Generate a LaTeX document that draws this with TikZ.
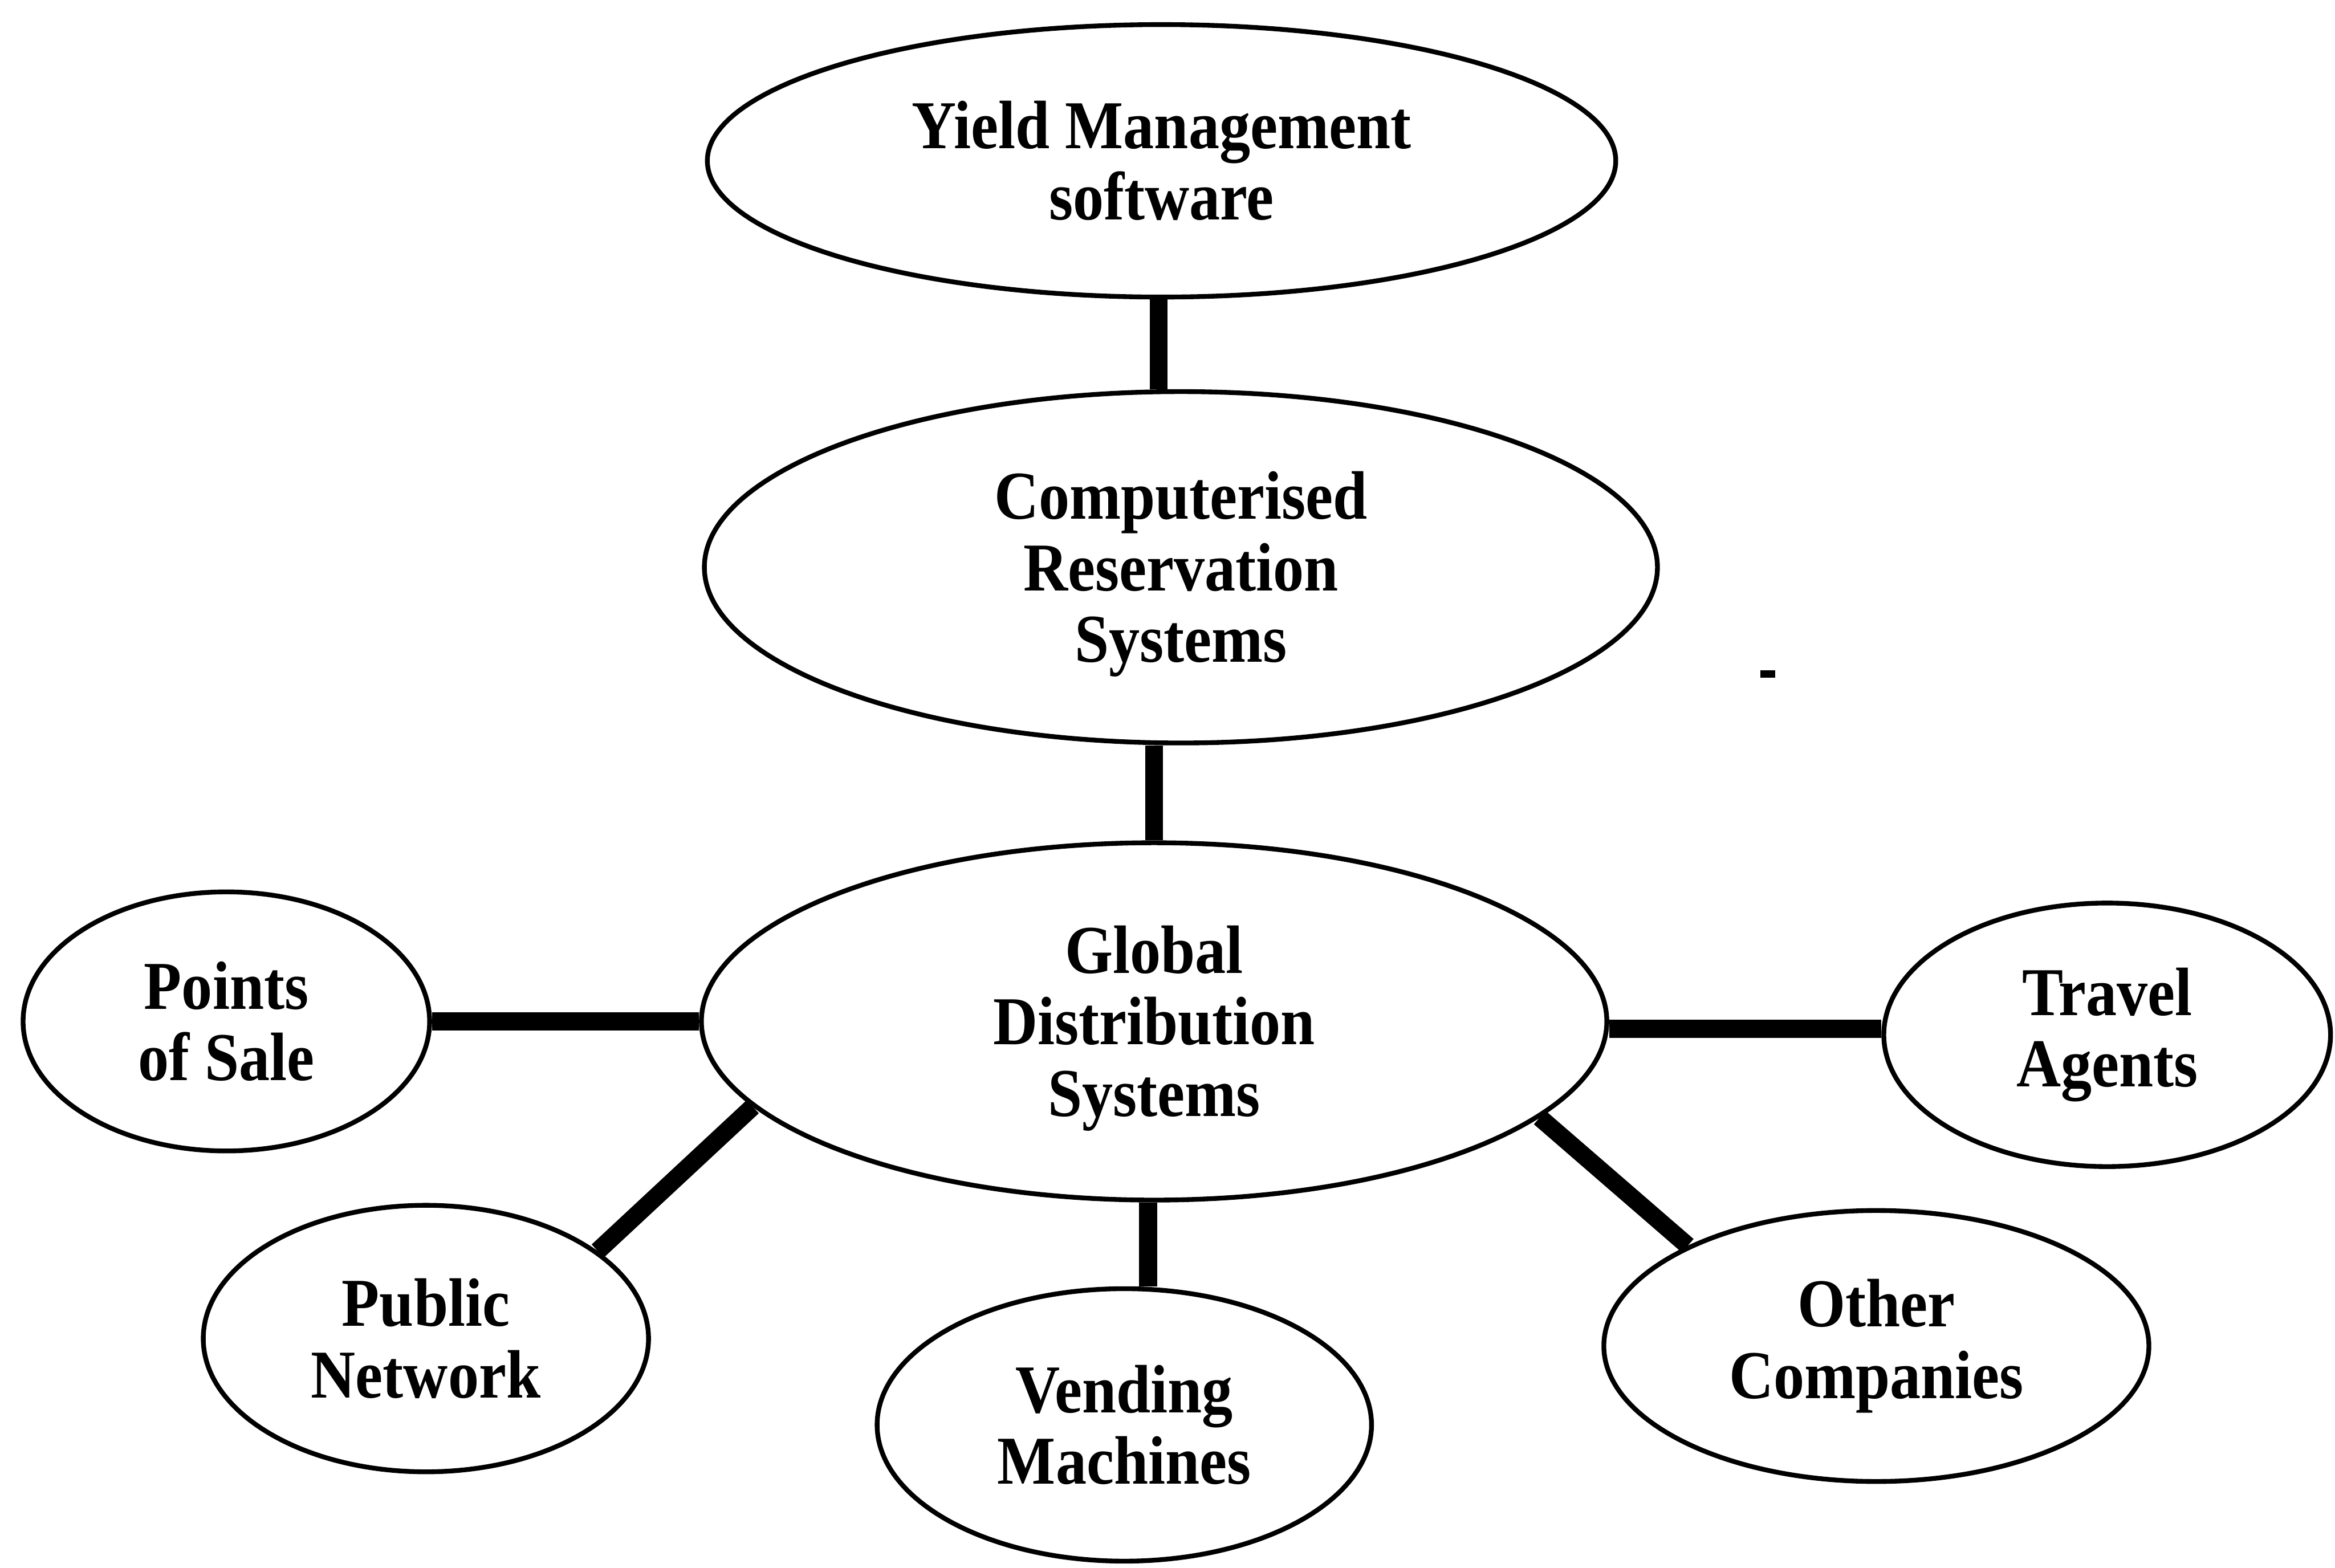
\documentclass[tikz,border=0pt]{standalone}
\usepackage{fontspec}
\setmainfont{Liberation Serif}[FakeStretch=0.9]
\usetikzlibrary{shapes.geometric,calc}
% lowers a centred block of lines while keeping its box size
\newcommand{\lowered}[2]{\raisebox{#1}[\height][\depth]{\begin{tabular}{@{}c@{}}#2\end{tabular}}}
\begin{document}
\begin{tikzpicture}[x=1pt,y=-1pt,
  bubble/.style={ellipse,draw,line width=3.2pt,inner sep=0pt,align=center,
    font=\fontsize{46}{48}\selectfont\bfseries},
  conn/.style={line width=12pt}]
\useasboundingbox (0,0) rectangle (1568,1053);
% bubbles
\node[bubble,minimum width=610,minimum height=183] (ym) at (780,108) {Yield Management\\software};
\node[bubble,minimum width=640,minimum height=236] (crs) at (793,381) {\lowered{-6pt}{Computerised\\Reservation\\Systems}};
\node[bubble,minimum width=608,minimum height=240] (gds) at (775,686) {\lowered{-6pt}{Global\\Distribution\\Systems}};
\node[bubble,minimum width=273,minimum height=174] (pos) at (152,686) {Points\\of Sale};
\node[bubble,minimum width=300,minimum height=177] (ta) at (1415,695) {Travel\\Agents};
\node[bubble,minimum width=299,minimum height=179] (pn) at (286,899) {Public\\Network};
\node[bubble,minimum width=332,minimum height=183] (vm) at (755,957) {Vending\\Machines};
\node[bubble,minimum width=366,minimum height=182] (oc) at (1260,904) {Other\\Companies};
% connectors
\draw[conn] ([xshift=-2pt]ym.south) -- ([xshift=-2pt]ym.south |- crs.north);
\draw[conn] (crs.south -| gds.north) -- (gds.north);
\draw[conn] (pos.east) -- (gds.west);
\draw[conn] ([yshift=-5pt]gds.east) -- ([yshift=-5pt]gds.east -| ta.west);
\draw[conn] (gds.192.6) -- (pn.27.3);
\draw[conn] ([xshift=-4pt]gds.south) -- ([xshift=-4pt]gds.south |- vm.north);
\draw[conn] (gds.346.5) -- (oc.152.5);
% stray mark
\fill (1182,450) rectangle (1192,455);
\end{tikzpicture}
\end{document}
